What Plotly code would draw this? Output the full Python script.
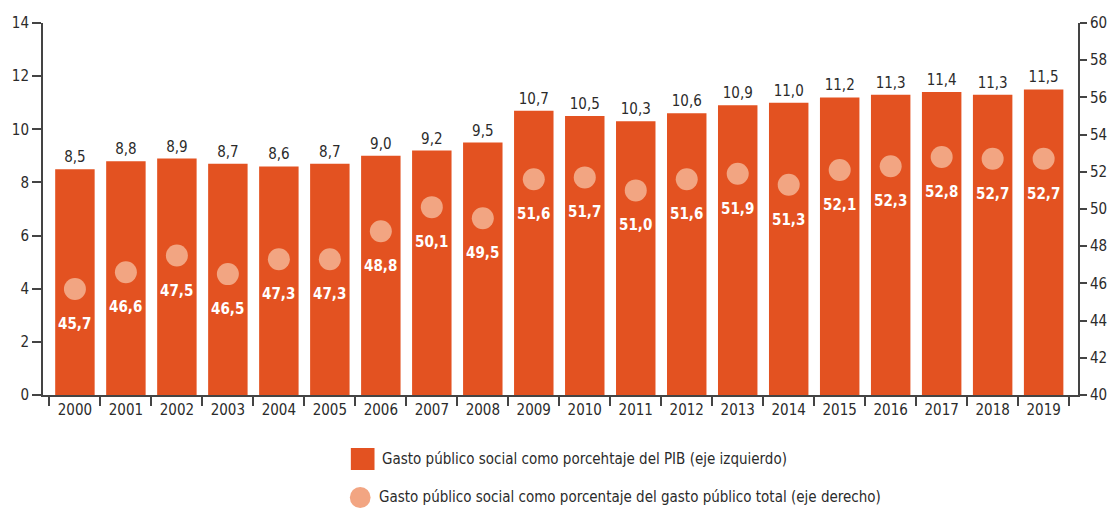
import plotly.graph_objects as go

years = [str(y) for y in range(2000, 2020)]
pib = [8.5, 8.8, 8.9, 8.7, 8.6, 8.7, 9.0, 9.2, 9.5, 10.7, 10.5, 10.3, 10.6, 10.9, 11.0, 11.2, 11.3, 11.4, 11.3, 11.5]
total = [45.7, 46.6, 47.5, 46.5, 47.3, 47.3, 48.8, 50.1, 49.5, 51.6, 51.7, 51.0, 51.6, 51.9, 51.3, 52.1, 52.3, 52.8, 52.7, 52.7]
legend_labels = [
    "Gasto público social como porcehtaje del PIB (eje izquierdo)",
    "Gasto público social como porcentaje del gasto público total (eje derecho)",
]

FONT = "DejaVu Sans Condensed, Liberation Sans Narrow, Roboto, sans-serif"
BAR = "#E35221"
DOT = "#F2A582"
TXT = "#2b2b2b"

def fmt(v):
    return f"{v:.1f}".replace(".", ",")

W, H = 1119, 508
ML, MR, MT, MB = 41, 29, 23, 113
PW, PH = W - ML - MR, H - MT - MB

def px(x):
    return (x - ML) / PW

def py(y):
    return (H - MB - y) / PH

fig = go.Figure()
fig.add_trace(go.Bar(
    x=years, y=pib, marker_color=BAR, marker_line_width=0,
    text=[fmt(v) for v in pib], textposition="outside",
    textfont=dict(color=TXT, size=15, family=FONT),
    cliponaxis=False, showlegend=False,
))
fig.add_trace(go.Scatter(
    x=years, y=total, yaxis="y2", mode="markers",
    marker=dict(color=DOT, size=22), showlegend=False,
))
for i, v in enumerate(total):
    fig.add_annotation(x=i, xref="x", y=v, yref="y2", text=f"<b>{fmt(v)}</b>",
                       showarrow=False, yshift=-35,
                       font=dict(color="white", size=15, family=FONT))

# legend
shapes = [
    dict(type="rect", xref="paper", yref="paper", x0=px(353), x1=px(377), y0=py(470), y1=py(448),
         fillcolor=BAR, line_width=0),
    dict(type="circle", xref="paper", yref="paper", x0=px(352), x1=px(373), y0=py(508), y1=py(487),
         fillcolor=DOT, line_width=0),
]
fig.add_annotation(xref="paper", yref="paper", x=px(383), y=py(459), xanchor="left", yanchor="middle",
                   text=legend_labels[0], showarrow=False, font=dict(size=15, color=TXT, family=FONT))
fig.add_annotation(xref="paper", yref="paper", x=px(380), y=py(497), xanchor="left", yanchor="middle",
                   text=legend_labels[1], showarrow=False, font=dict(size=15, color=TXT, family=FONT))

axis_common = dict(showgrid=False, zeroline=False, showline=True, linecolor="#444", linewidth=2,
                   ticks="outside", tickcolor="#444", tickwidth=2,
                   tickfont=dict(size=15, color=TXT, family=FONT))

fig.update_layout(
    width=W, height=H, margin=dict(l=ML, r=MR, t=MT, b=MB),
    paper_bgcolor="white", plot_bgcolor="white",
    bargap=0.226, shapes=shapes,
    font=dict(family=FONT, color=TXT),
    xaxis=dict(**axis_common, type="category", tickson="boundaries", ticklen=9,
               range=[-0.626, 19.674]),
    yaxis=dict(**axis_common, range=[0, 14], dtick=2, ticklen=9),
    yaxis2=dict(**axis_common, range=[40, 60], dtick=2, ticklen=7, overlaying="y", side="right"),
)
fig.write_html("out.html")
